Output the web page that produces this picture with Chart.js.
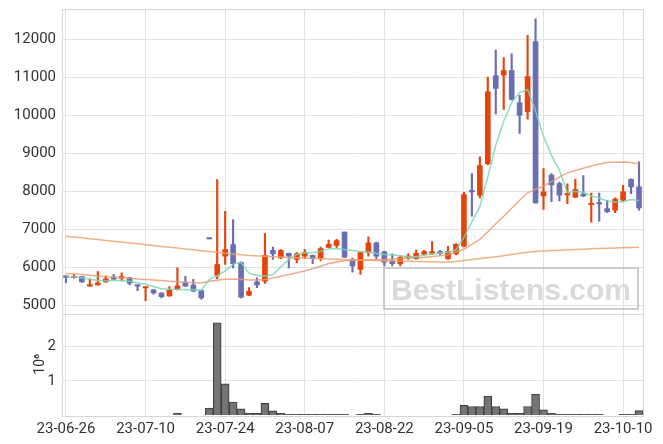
<!DOCTYPE html>
<html><head><meta charset="utf-8">
<script src="https://cdn.jsdelivr.net/npm/chart.js@4.4.0/dist/chart.umd.min.js"></script>
<style>html,body{margin:0;padding:0;background:#fff;}canvas{display:block;}</style>
</head><body>
<canvas id="c" width="663" height="444"></canvas>
<script>
const dates = ['23-06-26','23-06-27','23-06-28','23-06-29','23-06-30','23-07-03','23-07-04','23-07-05','23-07-06','23-07-07',
'23-07-10','23-07-11','23-07-12','23-07-13','23-07-14','23-07-17','23-07-18','23-07-19','23-07-20','23-07-21',
'23-07-24','23-07-25','23-07-26','23-07-27','23-07-28','23-07-31','23-08-01','23-08-02','23-08-03','23-08-04',
'23-08-07','23-08-08','23-08-09','23-08-10','23-08-11','23-08-14','23-08-16','23-08-17','23-08-18','23-08-21',
'23-08-22','23-08-23','23-08-24','23-08-25','23-08-28','23-08-29','23-08-30','23-08-31','23-09-01','23-09-04',
'23-09-05','23-09-06','23-09-07','23-09-08','23-09-11','23-09-12','23-09-13','23-09-14','23-09-15','23-09-18',
'23-09-19','23-09-20','23-09-21','23-09-22','23-09-25','23-09-26','23-09-27','23-10-04','23-10-05','23-10-06',
'23-10-10','23-10-11','23-10-12'];
const open = [5770,5730,5760,5510,5540,5620,5750,5720,5730,5530,
5460,5410,5330,5250,5420,5610,5540,5390,6760,5790,
6300,6600,6130,5270,5620,5640,6450,6250,6370,6210,
6300,6320,6230,6530,6580,6930,6210,5950,6390,6650,
6410,6170,6100,6250,6230,6350,6370,6420,6230,6360,
6560,8030,7900,8730,11050,11060,11180,10330,10100,11940,
7880,8430,8210,7910,7850,7930,7650,7700,7550,7510,
7770,8320,8120];
const close = [5740,5770,5620,5550,5600,5700,5690,5740,5590,5510,
5480,5330,5230,5400,5520,5510,5380,5200,6750,6080,
6470,6100,5220,5370,5540,6320,6360,6450,6300,6360,
6390,6230,6500,6610,6710,6270,6040,6390,6650,6300,
6140,6100,6270,6300,6370,6420,6420,6370,6420,6610,
7920,7990,8680,10620,10710,11180,10420,10010,11020,7700,
7990,8170,7900,7940,8050,7880,7690,7670,7470,7800,
7990,8120,7570];
const high = [5780,5820,5770,5700,5890,5780,5820,5860,5740,5530,
5490,5420,5340,5500,5990,5770,5690,5400,6760,8310,
7480,7260,6150,5470,5730,6890,6540,6470,6380,6390,
6470,6330,6540,6720,6740,6940,6250,6400,6810,6670,
6430,6360,6300,6360,6460,6450,6680,6450,6560,6630,
7980,8470,8910,11010,11720,11520,11620,10530,12110,12540,
8600,8470,8250,8200,8320,8420,7960,7960,7770,7830,
8160,8330,8780];
const low = [5600,5720,5610,5510,5530,5610,5680,5650,5540,5390,
5130,5300,5200,5240,5410,5500,5370,5170,6750,5700,
6080,5990,5200,5260,5470,5580,6210,6230,5990,6120,
6230,6100,6170,6520,6520,6260,5880,5820,6300,6230,
6040,6040,6040,6210,6220,6330,6340,6340,6210,6330,
6540,7350,7830,8700,10040,10160,10400,9530,9900,7690,
7530,7730,7750,7680,7840,7860,7190,7220,7440,7440,
7740,7940,7510];
const ma5 = [5772,5750,5728,5690,5658,5650,5665,5660,5640,5600,
5560,5500,5440,5428,5420,5420,5418,5405,5680,5780,
5910,6090,6130,5850,5790,5775,5810,6020,6210,6340,
6385,6390,6425,6490,6500,6475,6450,6420,6405,6370,
6340,6330,6310,6280,6290,6320,6355,6380,6400,6460,
6790,7200,7600,8380,9220,9850,10340,10600,10680,10120,
9450,8950,8560,7960,8000,7980,7880,7830,7750,7720,
7730,7790,7760];
const ma20 = [5840,5830,5815,5795,5775,5760,5745,5730,5715,5700,
5685,5670,5655,5640,5625,5612,5600,5592,5640,5665,
5690,5700,5690,5672,5670,5684,5725,5770,5815,5860,
5910,5965,6035,6105,6145,6180,6186,6192,6198,6204,
6211,6222,6235,6248,6260,6272,6290,6310,6335,6400,
6480,6610,6737,6940,7150,7350,7560,7770,7965,8060,
8140,8260,8380,8490,8550,8610,8670,8720,8760,8770,
8775,8765,8728];
const ma60 = [6824,6800,6780,6755,6735,6712,6690,6668,6645,6622,
6600,6578,6555,6532,6510,6488,6465,6442,6420,6400,
6378,6356,6335,6316,6305,6295,6285,6275,6265,6254,
6247,6240,6232,6225,6218,6210,6204,6198,6192,6186,
6180,6175,6170,6165,6160,6155,6150,6145,6140,6160,
6185,6210,6235,6258,6281,6310,6340,6372,6403,6418,
6432,6445,6456,6465,6474,6483,6492,6500,6509,6515,
6522,6528,6535];
const volume = [0,0,0,0,0,0,0,0,0,0,
0,0,0,0,50000,0,0,0,200000,2700000,
910000,380000,180000,50000,50000,340000,120000,50000,20000,20000,
20000,20000,20000,20000,20000,20000,0,20000,50000,20000,
0,0,0,0,0,0,0,0,0,20000,
280000,250000,250000,550000,250000,180000,50000,50000,250000,610000,
150000,50000,20000,20000,20000,20000,20000,20000,0,0,
20000,20000,130000];
const xTickLabels = ['23-06-26','23-07-10','23-07-24','23-08-07','23-08-22','23-09-05','23-09-19','23-10-10'];
const priceTicks = [5000,6000,7000,8000,9000,10000,11000,12000];
const volumeTicks = [1000000,2000000];

const UP = '#E5450C', DOWN = '#6A6FB3';
const candleColors = open.map((o,i)=> close[i] >= o ? UP : DOWN);
const wicks = low.map((l,i)=>[l, high[i]]);
const bodies = open.map((o,i)=>[o, close[i]]);

Chart.defaults.font.family = 'Roboto, "Liberation Sans", sans-serif';
Chart.defaults.font.size = 15;
Chart.defaults.color = '#333';

const GRID = '#e2e2e2';
function noPad(s){ s.paddingTop = 0; s.paddingBottom = 0; s.paddingLeft = 0; s.paddingRight = 0; }
const framePlugin = {
  id: 'frames',
  beforeDatasetsDraw(chart) {
    const ctx = chart.ctx, a = chart.chartArea;
    ctx.save();
    ctx.strokeStyle = '#d6d6d6'; ctx.lineWidth = 1;
    ['price','vol'].forEach(id => {
      const s = chart.scales[id];
      ctx.strokeRect(Math.round(a.left)+0.5, Math.round(s.top)+0.5, Math.round(a.right-a.left), Math.round(s.bottom - s.top));
    });
    ctx.restore();
  },
  afterDraw(chart) {
    const ctx = chart.ctx;
    ctx.save();
    ctx.strokeStyle = 'rgba(200,200,200,0.9)'; ctx.lineWidth = 2;
    ctx.strokeRect(384, 268, 254, 41);
    ctx.fillStyle = 'rgba(205,205,205,0.75)';
    ctx.font = 'bold 30px "Liberation Sans", Arial, sans-serif';
    ctx.textAlign = 'center'; ctx.textBaseline = 'alphabetic';
    ctx.fillText('BestListens.com', 511, 300);
    ctx.restore();
  }
};

new Chart(document.getElementById('c'), {
  data: {
    labels: dates,
    datasets: [
      {type:'line', label:'MA5', data: ma5, yAxisID:'price', borderColor:'rgba(120,214,180,0.85)', borderWidth:1.5, pointRadius:0, order:0},
      {type:'line', label:'MA20', data: ma20, yAxisID:'price', borderColor:'rgba(236,150,110,0.8)', borderWidth:1.5, pointRadius:0, order:0},
      {type:'line', label:'MA60', data: ma60, yAxisID:'price', borderColor:'rgba(236,165,115,0.85)', borderWidth:1.5, pointRadius:0, order:0},
      {type:'bar', label:'body', data: bodies, yAxisID:'price', backgroundColor: candleColors, borderWidth:0, barThickness:5, minBarLength:1.5, grouped:false, order:1},
      {type:'bar', label:'wick', data: wicks, yAxisID:'price', backgroundColor: candleColors, borderWidth:0, barThickness:1.5, grouped:false, order:2},
      {type:'bar', label:'volume', data: volume, yAxisID:'vol', backgroundColor:'rgba(110,110,110,0.95)', borderColor:'#3d3d3d', borderWidth:1, barPercentage:1, categoryPercentage:1, grouped:false, order:3}
    ]
  },
  options: {
    responsive:false, animation:false, devicePixelRatio:1,
    layout:{padding:{top:9, right:20, bottom:1, left:0}},
    plugins:{legend:{display:false}, tooltip:{enabled:false}},
    scales:{
      x:{type:'category', position:'bottom', offset:true,
         grid:{offset:false, color:GRID, drawTicks:false},
         border:{display:false},
         afterBuildTicks(s){ s.ticks = xTickLabels.map(l=>({value: dates.indexOf(l)})); },
         afterFit: noPad,
         ticks:{autoSkip:false, maxRotation:0, padding:5}},
      vol:{type:'linear', position:'left', stack:'main', stackWeight:1, min:0, max:2970000,
         grid:{color:GRID, drawTicks:false}, border:{display:false},
         afterBuildTicks(s){ s.ticks = volumeTicks.map(v=>({value:v})); },
         afterFit(s){ s.width = 62; noPad(s); },
         ticks:{padding:6, callback:v=>String(v/1000000)},
         title:{display:true, text:'10⁶', font:{size:14}, padding:{top:32, bottom:0}}},
      price:{type:'linear', position:'left', stack:'main', stackWeight:3, min:4790, max:12800,
         grid:{color:GRID, drawTicks:false}, border:{display:false},
         afterBuildTicks(s){ s.ticks = priceTicks.map(v=>({value:v})); },
         afterFit(s){ s.width = 62; noPad(s); },
         ticks:{padding:6, callback:v=>String(v)}}
    }
  },
  plugins:[framePlugin]
});
</script>
</body></html>
